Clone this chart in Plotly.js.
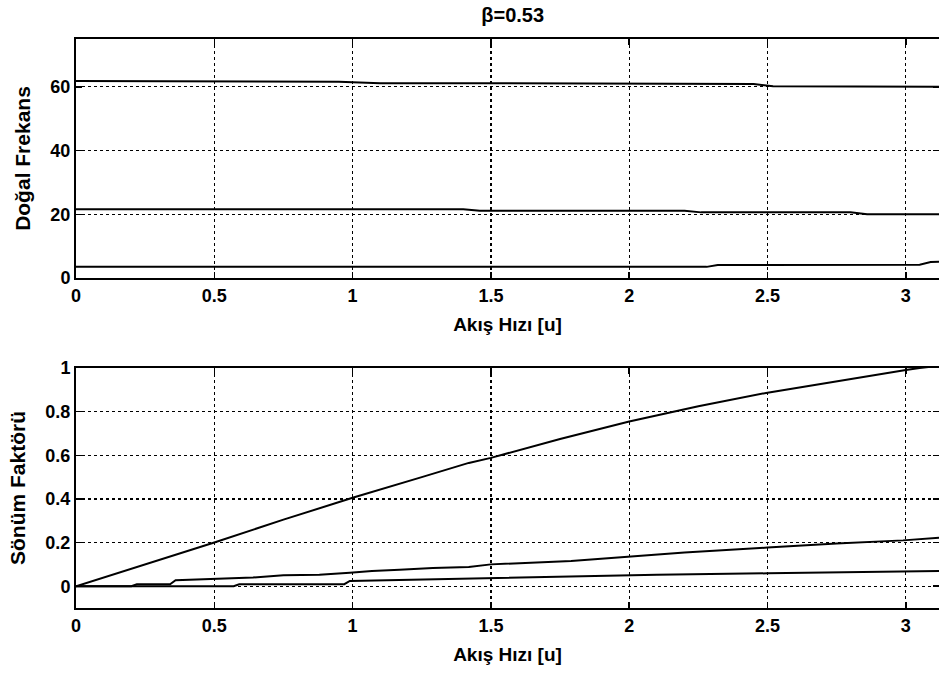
<!DOCTYPE html>
<html>
<head>
<meta charset="utf-8">
<script src="https://cdn.plot.ly/plotly-3.0.1.min.js"></script>
<style>html,body{margin:0;padding:0;background:#fff;}#chart{width:939px;height:674px;}</style>
</head>
<body>
<div id="chart"></div>
<script>
// ---- data ----
const chartTitle = "β=0.53";
const xTitle = "Akış Hızı [u]";
const yTitleTop = "Doğal Frekans";
const yTitleBottom = "Sönüm Faktörü";

// Natural frequencies (top panel)
const freq1X = [0, 0.80, 0.95, 1.05, 1.10, 1.50, 2.00, 2.45, 2.52, 3.00, 3.12];
const freq1Y = [61.8, 61.8, 61.6, 61.3, 61.1, 61.1, 60.9, 60.9, 60.2, 60.0, 60.0];
const freq2X = [0, 1.40, 1.46, 2.20, 2.26, 2.80, 2.86, 3.12];
const freq2Y = [21.6, 21.6, 21.1, 21.1, 20.6, 20.6, 20.0, 20.0];
const freq3X = [0, 2.28, 2.32, 3.05, 3.09, 3.12];
const freq3Y = [3.5, 3.5, 4.1, 4.2, 5.0, 5.1];

// Damping factors (bottom panel)
const dampAX = [0, 0.25, 0.5, 0.75, 1.0, 1.25, 1.42, 1.5, 1.75, 2.0, 2.25, 2.5, 2.75, 3.0, 3.05, 3.12];
const dampAY = [0, 0.10, 0.20, 0.305, 0.405, 0.50, 0.565, 0.588, 0.675, 0.755, 0.825, 0.887, 0.94, 0.991, 1.0, 1.01];
const dampBX = [0, 0.20, 0.22, 0.34, 0.36, 0.50, 0.64, 0.75, 0.88, 0.99, 1.07, 1.17, 1.29, 1.42, 1.50, 1.79, 1.99, 2.20, 2.50, 2.75, 2.99, 3.12];
const dampBY = [0, 0, 0.009, 0.009, 0.027, 0.032, 0.040, 0.050, 0.052, 0.062, 0.070, 0.075, 0.083, 0.088, 0.10, 0.116, 0.135, 0.154, 0.177, 0.196, 0.21, 0.222];
const dampCX = [0, 0.57, 0.59, 0.97, 0.99, 1.37, 1.42, 1.72, 2.10, 2.50, 2.87, 3.12];
const dampCY = [0, 0, 0.009, 0.009, 0.024, 0.033, 0.035, 0.044, 0.052, 0.059, 0.067, 0.07];

const topYTicks = [0, 20, 40, 60];
const bottomYTicks = [0, 0.2, 0.4, 0.6, 0.8, 1];
const xTicks = [0, 0.5, 1, 1.5, 2, 2.5, 3];

// ---- chart ----
const lineStyle = {color: "#000", width: 2};
const traces = [
  {x: freq1X, y: freq1Y, xaxis: "x", yaxis: "y"},
  {x: freq2X, y: freq2Y, xaxis: "x", yaxis: "y"},
  {x: freq3X, y: freq3Y, xaxis: "x", yaxis: "y"},
  {x: dampAX, y: dampAY, xaxis: "x2", yaxis: "y2"},
  {x: dampBX, y: dampBY, xaxis: "x2", yaxis: "y2"},
  {x: dampCX, y: dampCY, xaxis: "x2", yaxis: "y2"}
].map(t => Object.assign(t, {type: "scatter", mode: "lines", line: lineStyle, showlegend: false, hoverinfo: "skip"}));

const fontFam = "Liberation Sans, Arial, Helvetica, sans-serif";
const tickFont = {family: fontFam, size: 18, color: "#000", weight: "bold"};
const xTitleFont = {family: fontFam, size: 19, color: "#000", weight: "bold"};
const yTitleFont = {family: fontFam, size: 21, color: "#000", weight: "bold"};

function xAxis(anchor) {
  return {
    anchor: anchor, domain: [0, 1], range: [0, 3.12],
    tickvals: xTicks, ticktext: xTicks.map(String),
    ticks: "inside", ticklen: 6, tickcolor: "#000", tickwidth: 1.5,
    showline: true, linecolor: "#000", linewidth: 2, mirror: "ticks",
    showgrid: true, gridcolor: "#000", gridwidth: 1.3, griddash: "dot",
    zeroline: false, automargin: false,
    tickfont: tickFont,
    title: {text: xTitle, font: xTitleFont, standoff: 13}
  };
}
function yAxis(anchor, domain, range, ticks, title, standoff) {
  return {
    anchor: anchor, domain: domain, range: range,
    tickvals: ticks, ticktext: ticks.map(String),
    ticks: "inside", ticklen: 6, tickcolor: "#000", tickwidth: 1.5,
    showline: true, linecolor: "#000", linewidth: 2, mirror: "ticks",
    showgrid: true, gridcolor: "#000", gridwidth: 1.3, griddash: "dot",
    zeroline: false, automargin: false,
    tickfont: tickFont,
    title: {text: title, font: yTitleFont, standoff: standoff}
  };
}

const layout = {
  width: 939, height: 674,
  margin: {l: 76, r: 0, t: 0, b: 0},
  paper_bgcolor: "#fff", plot_bgcolor: "rgba(0,0,0,0)",
  title: {text: chartTitle, font: {family: fontFam, size: 20, color: "#000", weight: "bold"}, x: 0.506, xref: "paper", xanchor: "center", y: 0.978, yref: "container", yanchor: "middle"},
  xaxis: xAxis("y"),
  yaxis: yAxis("x", [0.5875, 0.9421], [0, 75], topYTicks, yTitleTop, 14),
  xaxis2: xAxis("y2"),
  yaxis2: yAxis("x2", [0.0979, 0.4540], [-0.1, 1], bottomYTicks, yTitleBottom, 14)
};

Plotly.newPlot("chart", traces, layout, {staticPlot: true, displayModeBar: false});
</script>
</body>
</html>
